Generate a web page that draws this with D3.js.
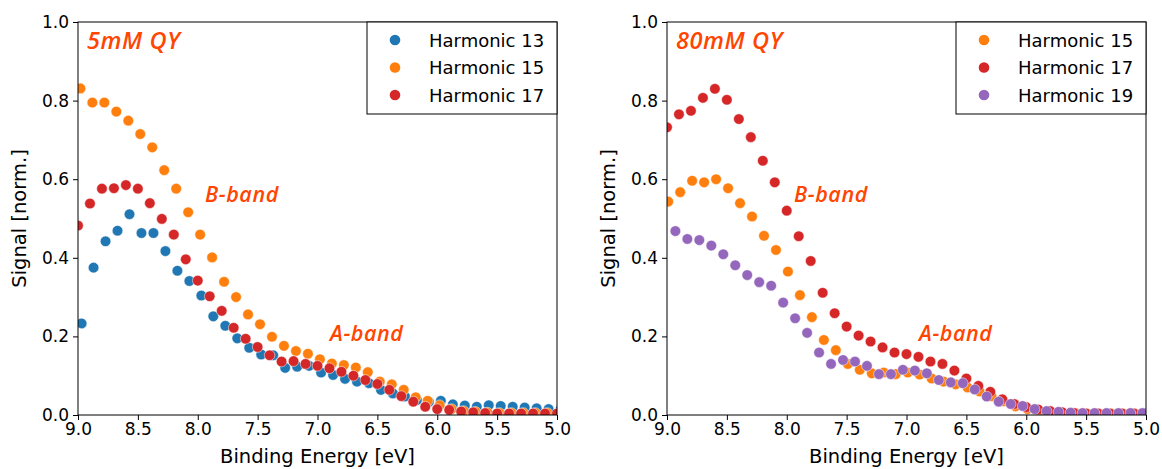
<!DOCTYPE html>
<html>
<head>
<meta charset="utf-8">
<script src="https://cdn.jsdelivr.net/npm/d3@7"></script>
<style>
  body { margin: 0; background: #fff; }
  svg text { font-family: "DejaVu Sans", sans-serif; }
  .note { font-family: "Open Sans", "Noto Sans", sans-serif; font-style: italic; font-weight: 600; fill: #ff4500; letter-spacing: 0.6px; }
</style>
</head>
<body>
<div id="chart"></div>
<script>
// energy grid [eV] (each harmonic is slightly shifted on it)
const energies = [9.0, 8.9, 8.8, 8.7, 8.6, 8.5, 8.4, 8.3, 8.2, 8.1,
  8.0, 7.9, 7.8, 7.7, 7.6, 7.5, 7.4, 7.3, 7.2, 7.1,
  7.0, 6.9, 6.8, 6.7, 6.6, 6.5, 6.4, 6.3, 6.2, 6.1,
  6.0, 5.9, 5.8, 5.7, 5.6, 5.5, 5.4, 5.3, 5.2, 5.1, 5.0]

const xTicks = [9.0, 8.5, 8.0, 7.5, 7.0, 6.5, 6.0, 5.5, 5.0]
const yTicks = [0.0, 0.2, 0.4, 0.6, 0.8, 1.0]

// 5mM QY
const h13_5mM = [0.233, 0.375, 0.442, 0.469, 0.511, 0.463, 0.463, 0.417, 0.367, 0.341,
  0.304, 0.251, 0.227, 0.195, 0.171, 0.154, 0.152, 0.120, 0.123, 0.125,
  0.108, 0.102, 0.092, 0.085, 0.081, 0.064, 0.055, 0.047, 0.038, 0.034,
  0.036, 0.027, 0.024, 0.021, 0.025, 0.023, 0.021, 0.019, 0.017, 0.015, 0.014]
const h15_5mM = [0.831, 0.795, 0.795, 0.772, 0.749, 0.715, 0.681, 0.623, 0.576, 0.516,
  0.459, 0.401, 0.339, 0.300, 0.256, 0.231, 0.199, 0.176, 0.163, 0.156,
  0.142, 0.131, 0.127, 0.121, 0.109, 0.085, 0.078, 0.064, 0.045, 0.036,
  0.025, 0.015, 0.010, 0.008, 0.006, 0.005, 0.005, 0.005, 0.005, 0.005, 0.005]
const h17_5mM = [0.482, 0.538, 0.576, 0.577, 0.585, 0.576, 0.539, 0.499, 0.459, 0.396,
  0.342, 0.302, 0.265, 0.222, 0.194, 0.173, 0.152, 0.136, 0.137, 0.130,
  0.125, 0.119, 0.110, 0.100, 0.089, 0.079, 0.064, 0.048, 0.034, 0.021,
  0.015, 0.013, 0.009, 0.007, 0.005, 0.004, 0.004, 0.004, 0.004, 0.004, 0.004]

// 80mM QY
const h15_80mM = [0.543, 0.567, 0.596, 0.592, 0.600, 0.577, 0.539, 0.505, 0.456, 0.420,
  0.365, 0.305, 0.249, 0.191, 0.165, 0.130, 0.115, 0.106, 0.108, 0.104,
  0.108, 0.103, 0.093, 0.085, 0.078, 0.070, 0.060, 0.048, 0.035, 0.022,
  0.015, 0.010, 0.006, 0.005, 0.005, 0.004, 0.004, 0.004, 0.004, 0.004, 0.004]
const h17_80mM = [0.732, 0.765, 0.774, 0.807, 0.830, 0.802, 0.753, 0.707, 0.647, 0.592,
  0.520, 0.455, 0.392, 0.311, 0.259, 0.225, 0.202, 0.187, 0.172, 0.159,
  0.155, 0.148, 0.136, 0.130, 0.113, 0.093, 0.074, 0.059, 0.040, 0.028,
  0.020, 0.014, 0.010, 0.007, 0.005, 0.004, 0.004, 0.004, 0.004, 0.004, 0.004]
const h19_80mM = [0.468, 0.448, 0.445, 0.431, 0.409, 0.381, 0.356, 0.338, 0.329, 0.286,
  0.246, 0.209, 0.159, 0.130, 0.140, 0.136, 0.125, 0.104, 0.104, 0.115,
  0.113, 0.106, 0.089, 0.083, 0.081, 0.065, 0.047, 0.034, 0.028, 0.023,
  0.015, 0.010, 0.008, 0.006, 0.005, 0.005, 0.005, 0.005, 0.005, 0.005]

const panels = [
  { title: "5mM QY", left: 78, series: [
    { name: "Harmonic 13", color: "#1f77b4", shift: -0.03, values: h13_5mM },
    { name: "Harmonic 15", color: "#ff7f0e", shift: -0.02, values: h15_5mM },
    { name: "Harmonic 17", color: "#d62728", shift: 0, values: h17_5mM }] },
  { title: "80mM QY", left: 667, series: [
    { name: "Harmonic 15", color: "#ff7f0e", shift: -0.01, values: h15_80mM },
    { name: "Harmonic 17", color: "#d62728", shift: 0, values: h17_80mM },
    { name: "Harmonic 19", color: "#9467bd", shift: -0.07, values: h19_80mM }] }
]

const W = 1162, H = 469
const plotTop = 22, plotBottom = 415, plotW = 479

const svg = d3.select("#chart").append("svg")
    .attr("width", W)
    .attr("height", H)

panels.forEach((p, i) => {
  const g = svg.append("g").attr("transform", `translate(${p.left},0)`)
  const x = d3.scaleLinear().domain([9.0, 5.0]).range([0, plotW])
  const y = d3.scaleLinear().domain([0, 1]).range([plotBottom, plotTop])

  g.append("clipPath").attr("id", "clip" + i)
    .append("rect").attr("x", 0).attr("y", plotTop).attr("width", plotW).attr("height", plotBottom - plotTop)

  // points
  const pts = g.append("g").attr("clip-path", `url(#clip${i})`)
  p.series.forEach(s => {
    pts.append("g")
      .selectAll("circle")
      .data(s.values)
      .join("circle")
        .attr("cx", (d, j) => x(energies[j] + s.shift))
        .attr("cy", d => y(d))
        .attr("r", 5.3)
        .attr("fill", s.color)
        .attr("stroke", "#fff")
        .attr("stroke-width", 0.5)
  })

  // axes
  const xa = g.append("g").attr("transform", `translate(0,${plotBottom})`)
    .call(d3.axisBottom(x).tickValues(xTicks).tickFormat(d3.format(".1f")).tickSize(5).tickPadding(3))
  const ya = g.append("g")
    .call(d3.axisLeft(y).tickValues(yTicks).tickFormat(d3.format(".1f")).tickSize(5).tickPadding(4))
  ;[xa, ya].forEach(a => {
    a.select(".domain").remove()
    a.selectAll("text").attr("font-size", 17).attr("fill", "#000").attr("font-family", "DejaVu Sans")
    a.selectAll("line").attr("stroke", "#000")
  })

  g.append("rect")
    .attr("x", 0).attr("y", plotTop).attr("width", plotW).attr("height", plotBottom - plotTop)
    .attr("fill", "none").attr("stroke", "#000").attr("stroke-width", 1)

  // labels
  g.append("text")
    .attr("x", plotW / 2).attr("y", 463)
    .attr("text-anchor", "middle").attr("font-size", 19.5)
    .text("Binding Energy [eV]")
  g.append("text")
    .attr("transform", `translate(${-52},${(plotTop + plotBottom) / 2}) rotate(-90)`)
    .attr("text-anchor", "middle").attr("font-size", 19.5)
    .text("Signal [norm.]")

  // annotations
  g.append("text").attr("class", "note").attr("x", 9).attr("y", 49).attr("font-size", 23.5).text(p.title)
  g.append("text").attr("class", "note").attr("x", 127).attr("y", 202).attr("font-size", 21.5).text("B-band")
  g.append("text").attr("class", "note").attr("x", 252).attr("y", 341).attr("font-size", 21.5).text("A-band")

  // legend
  const lg = g.append("g").attr("transform", `translate(${plotW - 190},${plotTop})`)
  lg.append("rect").attr("width", 190).attr("height", 92)
    .attr("fill", "#fff").attr("stroke", "#000").attr("stroke-width", 1)
  p.series.forEach((s, k) => {
    const row = lg.append("g").attr("transform", `translate(0,${18 + k * 27.5})`)
    row.append("circle").attr("cx", 28).attr("cy", 0).attr("r", 5.3).attr("fill", s.color)
    row.append("text").attr("x", 62).attr("y", 6.5).attr("font-size", 18).text(s.name)
  })
})
</script>
</body>
</html>
